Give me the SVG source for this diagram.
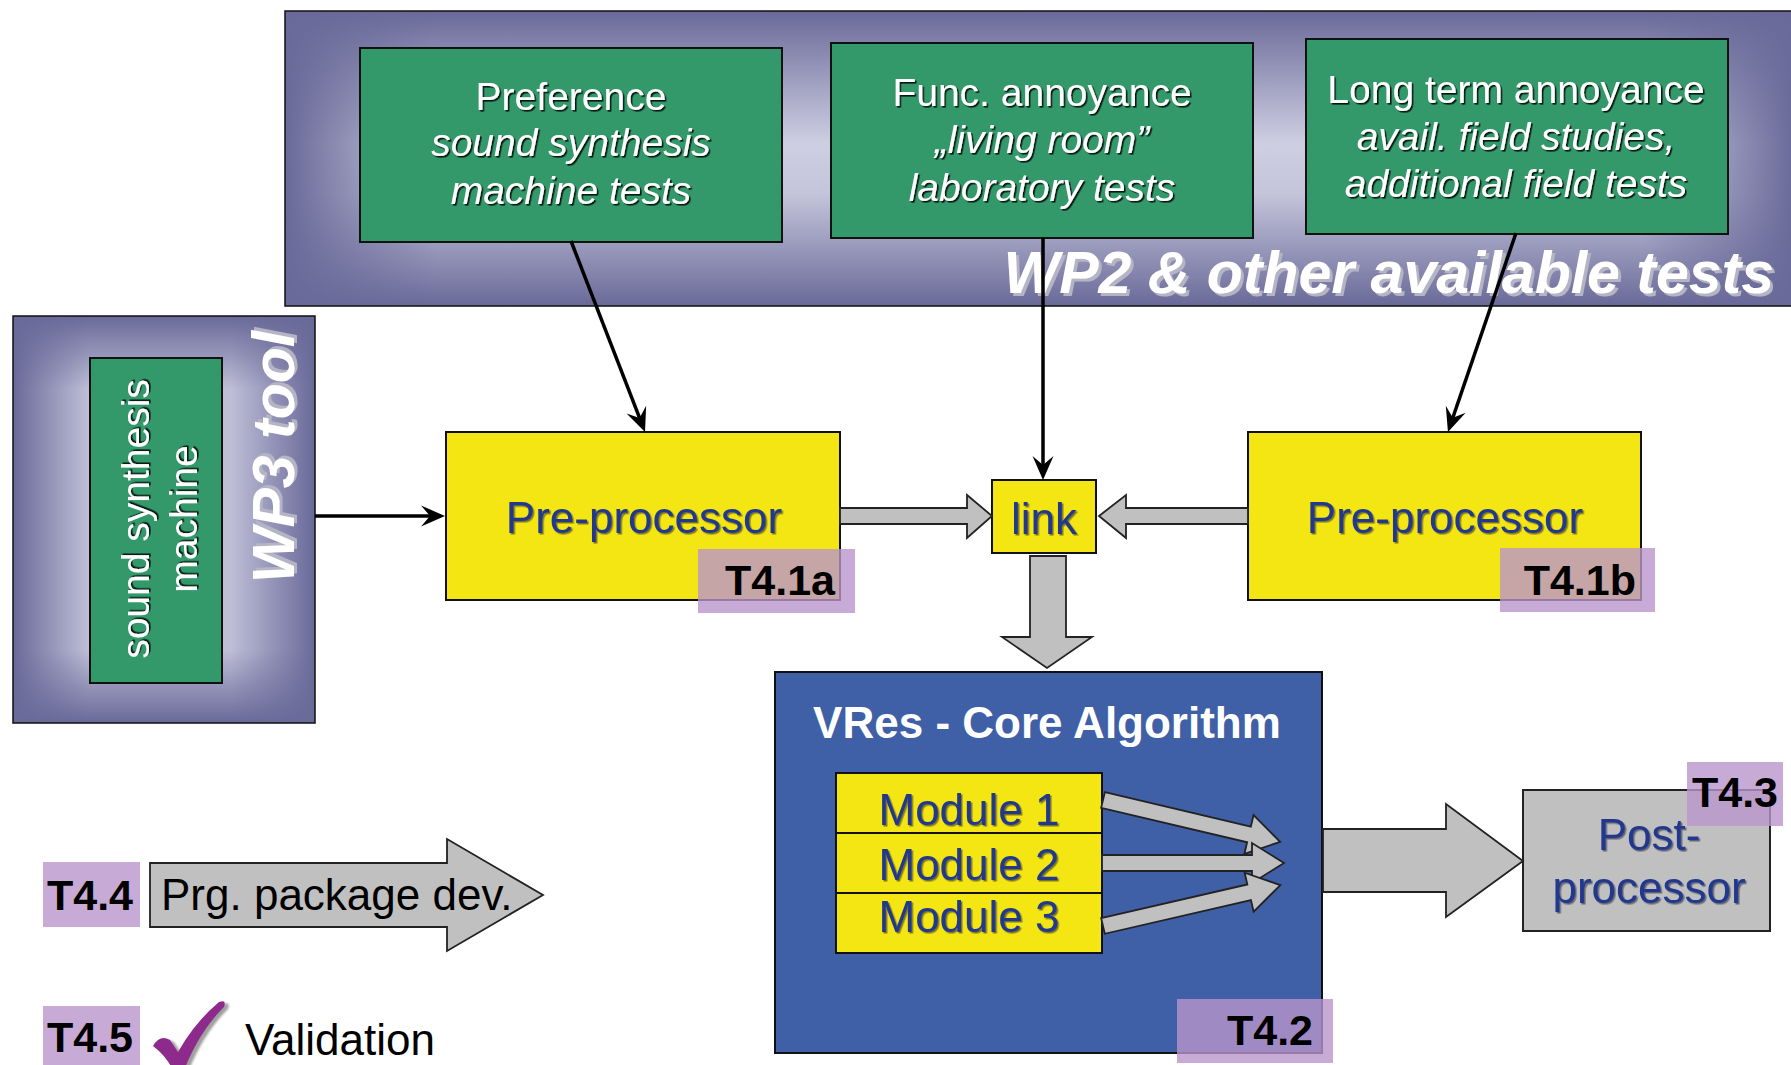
<svg xmlns="http://www.w3.org/2000/svg" xmlns:xlink="http://www.w3.org/1999/xlink" width="1791" height="1065" viewBox="0 0 1791 1065">
<style>
  text { font-family: "Liberation Sans", Arial, sans-serif; }
  .panel { fill: #6a6a9a; stroke: #111; stroke-width: 1.5; }
  .green { fill: #33996a; stroke: #111; stroke-width: 2; }
  .yellow { fill: #f3e612; stroke: #111; stroke-width: 2; }
  .wt { fill: #fff; font-size: 39px; text-anchor: middle; }
  .it { font-style: italic; }
  .bt { fill: #23398c; font-size: 44px; text-anchor: middle; }
  .tag { fill: #b995cb; fill-opacity: 0.8; }
  .tagt { font-size: 43px; font-weight: bold; fill: #000; text-anchor: end; }
  .blk { fill: #c0c0c0; stroke: #222; stroke-width: 1.8; stroke-linejoin: miter; }
  .conn { stroke: #000; stroke-width: 3.5; fill: none; marker-end: url(#ah); }
  .title { fill: #fff; font-weight: bold; font-style: italic; font-size: 59px; }
  .plain { fill: #000; font-size: 44px; }
</style>
<defs>
  <marker id="ah" markerUnits="userSpaceOnUse" viewBox="-16 -12 30 24" markerWidth="30" markerHeight="24" refX="0" refY="0" orient="auto">
    <path d="M10,0 L-14,-10.5 L-5,0 L-14,10.5 Z" fill="#000"/>
  </marker>
  <filter id="shDark" x="-5%" y="-20%" width="110%" height="140%">
    <feDropShadow dx="1.6" dy="1.6" stdDeviation="0.4" flood-color="#000" flood-opacity="0.85"/>
  </filter>
  <filter id="shBlue" x="-5%" y="-20%" width="110%" height="140%">
    <feDropShadow dx="1.5" dy="1.5" stdDeviation="0.5" flood-color="#0a1030" flood-opacity="0.55"/>
  </filter>
  <filter id="shGray" x="-5%" y="-20%" width="110%" height="140%">
    <feDropShadow dx="3" dy="3" stdDeviation="0.5" flood-color="#b4b4c4" flood-opacity="1"/>
  </filter>
  <filter id="shCheck" x="-20%" y="-20%" width="140%" height="140%">
    <feDropShadow dx="4" dy="2" stdDeviation="1.2" flood-color="#888" flood-opacity="0.8"/>
  </filter>
  <!-- soft glow used inside the two lavender panels -->
  <linearGradient id="glowV" x1="0" y1="0" x2="0" y2="1">
    <stop offset="0" stop-color="#d4d4e6" stop-opacity="0"/>
    <stop offset="0.45" stop-color="#d4d4e6" stop-opacity="0.95"/>
    <stop offset="0.62" stop-color="#d4d4e6" stop-opacity="0.85"/>
    <stop offset="1" stop-color="#d4d4e6" stop-opacity="0"/>
  </linearGradient>
  <linearGradient id="fadeH" x1="0" y1="0" x2="1" y2="0">
    <stop offset="0" stop-color="#000"/>
    <stop offset="0.1" stop-color="#fff"/>
    <stop offset="0.9" stop-color="#fff"/>
    <stop offset="1" stop-color="#000"/>
  </linearGradient>
  <mask id="mWP2" maskUnits="userSpaceOnUse" x="285" y="11" width="1510" height="295">
    <rect x="285" y="11" width="1510" height="295" fill="url(#fadeH)"/>
  </mask>
  <linearGradient id="glowV3" x1="0" y1="0" x2="0" y2="1">
    <stop offset="0" stop-color="#c8c8de" stop-opacity="0"/>
    <stop offset="0.18" stop-color="#c8c8de" stop-opacity="0.9"/>
    <stop offset="0.82" stop-color="#c8c8de" stop-opacity="0.9"/>
    <stop offset="1" stop-color="#c8c8de" stop-opacity="0"/>
  </linearGradient>
  <linearGradient id="fadeH3" x1="0" y1="0" x2="1" y2="0">
    <stop offset="0" stop-color="#000"/>
    <stop offset="0.25" stop-color="#fff"/>
    <stop offset="0.72" stop-color="#fff"/>
    <stop offset="1" stop-color="#000"/>
  </linearGradient>
  <mask id="mWP3" maskUnits="userSpaceOnUse" x="13" y="316" width="302" height="407">
    <rect x="13" y="316" width="302" height="407" fill="url(#fadeH3)"/>
  </mask>
  <path id="modArrow" d="M0,-8 L150,-8 L150,-20 L182,0 L150,20 L150,8 L0,8 Z"/>
</defs>

<rect width="1791" height="1065" fill="#fff"/>

<!-- WP2 panel with its three test boxes -->
<g id="wp2">
  <rect class="panel" x="285" y="11" width="1510" height="295"/>
  <rect x="285" y="11" width="1510" height="295" fill="url(#glowV)" mask="url(#mWP2)"/>
  <text class="title" x="1774" y="293" text-anchor="end" filter="url(#shGray)">WP2 &amp; other available tests</text>
</g>
<g id="preference">
  <rect class="green" x="360" y="48" width="422" height="194"/>
  <g filter="url(#shDark)">
    <text class="wt" x="571" y="110">Preference</text>
    <text class="wt it" x="571" y="156">sound synthesis</text>
    <text class="wt it" x="571" y="204">machine tests</text>
  </g>
</g>
<g id="func-annoyance">
  <rect class="green" x="831" y="43" width="422" height="195"/>
  <g filter="url(#shDark)">
    <text class="wt" x="1042" y="106">Func. annoyance</text>
    <text class="wt it" x="1042" y="153">„living room”</text>
    <text class="wt it" x="1042" y="201">laboratory tests</text>
  </g>
</g>
<g id="longterm-annoyance">
  <rect class="green" x="1306" y="39" width="422" height="195"/>
  <g filter="url(#shDark)">
    <text class="wt" x="1516" y="103">Long term annoyance</text>
    <text class="wt it" x="1516" y="150">avail. field studies,</text>
    <text class="wt it" x="1516" y="197">additional field tests</text>
  </g>
</g>

<!-- WP3 tool panel -->
<g id="wp3">
  <rect class="panel" x="13" y="316" width="302" height="407"/>
  <rect x="13" y="316" width="302" height="407" fill="url(#glowV3)" mask="url(#mWP3)"/>
  <rect class="green" x="90" y="358" width="132" height="325"/>
  <g transform="translate(0,519) rotate(-90)" filter="url(#shDark)">
    <text class="wt" x="0" y="149">sound synthesis</text>
    <text class="wt" x="0" y="197">machine</text>
  </g>
  <g transform="translate(0,457) rotate(-90)">
    <text class="title" x="0" y="294" text-anchor="middle" filter="url(#shGray)">WP3 tool</text>
  </g>
</g>

<!-- pre-processors and link -->
<g id="preproc-a">
  <rect class="yellow" x="446" y="432" width="394" height="168"/>
  <text class="bt" x="644" y="533" filter="url(#shBlue)">Pre-processor</text>
  <rect class="tag" x="698" y="549" width="157" height="64"/>
  <text class="tagt" x="835" y="595">T4.1a</text>
</g>
<g id="link">
  <rect class="yellow" x="992" y="480" width="104" height="73"/>
  <text class="bt" x="1044" y="534" filter="url(#shBlue)">link</text>
</g>
<g id="preproc-b">
  <rect class="yellow" x="1248" y="432" width="393" height="168"/>
  <text class="bt" x="1445" y="533" filter="url(#shBlue)">Pre-processor</text>
  <rect class="tag" x="1500" y="548" width="155" height="64"/>
  <text class="tagt" x="1636" y="595">T4.1b</text>
</g>

<!-- core algorithm -->
<g id="core">
  <rect x="775" y="672" width="547" height="381" fill="#3f5fa6" stroke="#111" stroke-width="2"/>
  <text x="1047" y="738" fill="#fff" font-size="44" font-weight="bold" text-anchor="middle">VRes - Core Algorithm</text>
  <rect class="tag" x="1177" y="999" width="156" height="64"/>
  <text class="tagt" x="1313" y="1045">T4.2</text>
</g>
<g id="module1">
  <rect class="yellow" x="836" y="773" width="266" height="60"/>
  <text class="bt" x="969" y="825" filter="url(#shBlue)">Module 1</text>
</g>
<g id="module2">
  <rect class="yellow" x="836" y="833" width="266" height="60"/>
  <text class="bt" x="969" y="880" filter="url(#shBlue)">Module 2</text>
</g>
<g id="module3">
  <rect class="yellow" x="836" y="893" width="266" height="60"/>
  <text class="bt" x="969" y="932" filter="url(#shBlue)">Module 3</text>
</g>

<!-- post-processor -->
<g id="postproc">
  <rect x="1523" y="790" width="247" height="141" fill="#c0c0c0" stroke="#222" stroke-width="2"/>
  <text class="bt" x="1649" y="850" filter="url(#shBlue)">Post-</text>
  <text class="bt" x="1649" y="903" filter="url(#shBlue)">processor</text>
  <rect class="tag" x="1687" y="762" width="96" height="64"/>
  <text class="tagt" x="1778" y="807">T4.3</text>
</g>

<!-- connectors -->
<g id="connectors">
  <line class="conn" x1="571" y1="241" x2="641.4" y2="422.7"/>
  <line class="conn" x1="1043" y1="238" x2="1043" y2="470"/>
  <line class="conn" x1="1516" y1="233" x2="1451.2" y2="422.5"/>
  <line class="conn" x1="315" y1="516" x2="435" y2="516"/>
  <path class="blk" d="M840,508 L967,508 L967,495 L992,516 L967,538 L967,524 L840,524 Z"/>
  <path class="blk" d="M1248,508 L1126,508 L1126,495 L1099,516 L1126,538 L1126,524 L1248,524 Z"/>
  <path class="blk" d="M1030,556 L1066,556 L1066,637 L1092,637 L1047,668 L1002,637 L1030,637 Z"/>
  <use xlink:href="#modArrow" class="blk" transform="translate(1103,800) rotate(13.3)"/>
  <use xlink:href="#modArrow" class="blk" transform="translate(1102,863)"/>
  <use xlink:href="#modArrow" class="blk" transform="translate(1103,926) rotate(-13)"/>
  <path class="blk" d="M1323,829 L1446,829 L1446,804 L1523,861 L1446,917 L1446,892 L1323,892 Z"/>
</g>

<!-- legend -->
<g id="legend-dev">
  <rect class="tag" x="43" y="862" width="97" height="65"/>
  <text class="tagt" x="133" y="910">T4.4</text>
  <path class="blk" d="M150,863 L447,863 L447,839 L543,895 L447,951 L447,927 L150,927 Z"/>
  <text class="plain" x="161" y="910">Prg. package dev.</text>
</g>
<g id="legend-validation">
  <rect class="tag" x="43" y="1006" width="97" height="64"/>
  <text class="tagt" x="133" y="1052">T4.5</text>
  <path d="M153,1046 Q160,1034 170,1040 L178,1052 Q195,1022 219,1002 Q227,999 224,1007 Q200,1031 185,1068 L172,1068 Q165,1055 153,1046 Z" fill="#8e2a8c" filter="url(#shCheck)"/>
  <text class="plain" x="245" y="1055">Validation</text>
</g>
</svg>
